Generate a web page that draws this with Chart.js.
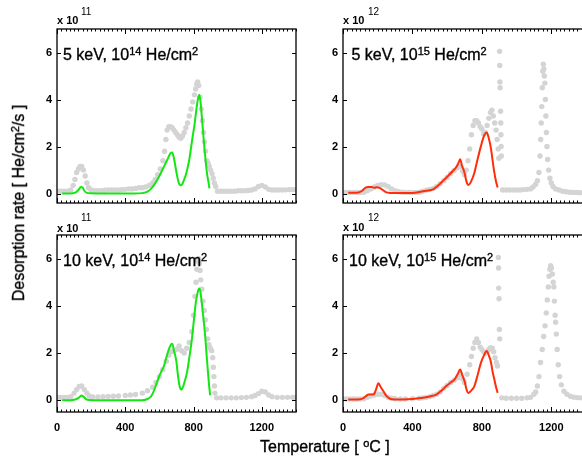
<!DOCTYPE html>
<html>
<head>
<meta charset="utf-8">
<script src="https://cdn.jsdelivr.net/npm/chart.js@4.4.1/dist/chart.umd.min.js"></script>
<style>
  html, body { margin: 0; padding: 0; background: #fff; }
  #fig { position: relative; width: 582px; height: 460px; overflow: hidden; font-family: 'Liberation Sans', Arial, sans-serif; color: #000; }
  canvas { position: absolute; }
  .txt { position: absolute; white-space: nowrap; line-height: 16px; font-size: 16px; -webkit-text-stroke: 0.35px #000; }
  .txt sup { font-size: 11px; vertical-align: 5px; line-height: 0; }
  .mul { position: absolute; font-size: 11px; font-weight: bold; line-height: 11px; white-space: nowrap; }
  .exp { position: absolute; font-size: 10px; line-height: 10px; }
</style>
</head>
<body>
<div id="fig">
  <canvas id="c1" width="300" height="215" style="left:0;top:0"></canvas>
  <canvas id="c2" width="290" height="215" style="left:300px;top:0"></canvas>
  <canvas id="c3" width="300" height="245" style="left:0;top:215px"></canvas>
  <canvas id="c4" width="290" height="245" style="left:300px;top:215px"></canvas>

  <div class="mul" style="left:57px;top:14.5px">x 10</div><div class="exp" style="left:81px;top:6.5px">11</div>
  <div class="mul" style="left:343px;top:15px">x 10</div><div class="exp" style="left:368px;top:6.5px">12</div>
  <div class="mul" style="left:57px;top:223px">x 10</div><div class="exp" style="left:81px;top:212.5px">11</div>
  <div class="mul" style="left:343px;top:222px">x 10</div><div class="exp" style="left:368px;top:212.5px">12</div>

  <div class="txt" style="left:63px;top:46.5px">5 keV, 10<sup>14</sup> He/cm<sup>2</sup></div>
  <div class="txt" style="left:351.5px;top:46.5px">5 keV, 10<sup>15</sup> He/cm<sup>2</sup></div>
  <div class="txt" style="left:63px;top:253px">10 keV, 10<sup>14</sup> He/cm<sup>2</sup></div>
  <div class="txt" style="left:349px;top:253px">10 keV, 10<sup>15</sup> He/cm<sup>2</sup></div>

  <div class="txt" style="left:19px;top:203px;transform:translate(-50%,-50%) rotate(-90deg)">Desorption rate [ He/cm<sup>2</sup>/s ]</div>
  <div class="txt" style="left:260px;top:438.5px">Temperature [ <sup>o</sup>C ]</div>
</div>

<script>
// tick labels
const xTicks = [0, 400, 800, 1200];
const yTicks = [0, 2, 4, 6];
const xMinorStep = 25;

// 5 keV, 1e14 He/cm2 (x 1e11)
const tGray5k14 = [0,20,40,60,80,95,105,115,125,135,145,155,165,175,185,200,220,240,260,280,300,320,340,360,380,400,420,440,460,480,500,520,540,560,575,590,605,620,630,638,645,655,665,675,685,695,705,715,725,735,745,755,765,775,785,795,805,812,818,824,830,838,845,852,858,864,870,877,885,892,900,908,915,922,930,940,960,980,1000,1020,1040,1060,1080,1100,1120,1140,1160,1180,1200,1220,1240,1260,1280,1300,1320,1340,1360,1380,1400];
const vGray5k14 = [0.1,0.1,0.1,0.1,0.15,0.35,0.6,0.9,1.05,1.15,1.15,1.0,0.75,0.45,0.25,0.15,0.12,0.12,0.12,0.14,0.15,0.15,0.15,0.15,0.17,0.18,0.2,0.2,0.22,0.25,0.25,0.28,0.35,0.45,0.6,0.8,1.05,1.4,1.8,2.3,2.7,2.85,2.85,2.8,2.7,2.6,2.5,2.4,2.35,2.45,2.6,2.8,3.0,3.3,3.6,3.9,4.2,4.45,4.65,4.75,4.6,4.1,3.6,3.1,2.6,2.2,1.8,1.4,1.3,1.15,1.0,0.85,0.65,0.45,0.3,0.1,0.1,0.1,0.1,0.1,0.1,0.12,0.12,0.12,0.13,0.15,0.2,0.3,0.35,0.28,0.18,0.15,0.15,0.15,0.15,0.16,0.17,0.17,0.17];
const tFit5k14 = [30,60,90,110,125,140,150,160,175,200,250,300,350,400,450,500,530,550,570,590,610,630,650,665,675,685,695,705,715,725,735,745,755,765,775,785,795,805,815,825,833,840,848,856,864,872,880,887,893];
const vFit5k14 = [0,0,0.01,0.05,0.15,0.28,0.26,0.12,0.03,0.01,0,0,0,0,0,0.02,0.08,0.2,0.38,0.62,0.9,1.2,1.5,1.72,1.75,1.5,1.1,0.7,0.42,0.35,0.42,0.6,0.8,1.1,1.45,1.95,2.45,2.9,3.5,4.0,4.2,3.95,3.3,2.6,1.9,1.3,0.8,0.5,0.22];

// 5 keV, 1e15 He/cm2 (x 1e12)
const tGray5k15 = [0,20,40,60,80,100,120,140,160,180,200,220,240,260,280,300,320,340,360,380,400,420,440,460,480,500,520,540,560,580,600,620,640,660,675,690,700,710,720,730,740,750,760,770,780,790,800,810,820,830,840,850,858,866,874,882,888,894,898,902,903,904,905,908,909,910,911,912,920,940,960,980,1000,1020,1040,1060,1080,1095,1110,1120,1129,1135,1139,1142,1145,1148,1151,1154,1157,1160,1163,1166,1169,1172,1175,1179,1185,1192,1200,1210,1225,1245,1265,1285,1305,1325,1345,1365,1385];
const vGray5k15 = [0.05,0.05,0.05,0.05,0.05,0.05,0.06,0.12,0.2,0.28,0.35,0.38,0.37,0.3,0.2,0.12,0.08,0.06,0.05,0.05,0.05,0.05,0.06,0.1,0.14,0.18,0.22,0.3,0.42,0.55,0.7,0.85,0.98,1.1,1.15,0.95,0.8,1.0,1.4,1.9,2.5,2.9,3.1,3.1,3.0,2.85,2.75,2.55,2.6,2.9,3.2,3.45,3.55,3.3,3.0,2.7,2.3,1.9,1.5,6.05,5.45,4.75,4.5,3.5,3.0,2.5,2.0,1.6,0.15,0.15,0.15,0.15,0.15,0.15,0.17,0.18,0.2,0.28,0.4,0.55,0.9,1.6,2.3,3.0,3.7,4.5,5.2,5.5,5.3,5.0,4.7,4.0,3.3,2.6,2.0,1.45,1.0,0.65,0.45,0.3,0.2,0.15,0.1,0.08,0.06,0.05,0.05,0.04,0.04];
const tFit5k15 = [30,60,90,110,130,145,165,180,195,210,230,250,270,300,350,400,440,480,519,545,576,605,633,655,665,675,685,700,712,723,740,757,775,795,812,828,840,853,862,872,882,891];
const vFit5k15 = [0.04,0.04,0.05,0.12,0.25,0.28,0.28,0.25,0.27,0.24,0.15,0.05,0.03,0.02,0.02,0.03,0.07,0.12,0.18,0.32,0.54,0.75,0.96,1.15,1.3,1.46,1.2,0.89,0.5,0.37,0.55,0.89,1.45,2.03,2.45,2.6,2.35,1.89,1.4,0.89,0.5,0.26];

// 10 keV, 1e14 He/cm2 (x 1e11)
const tGray10k14 = [0,20,40,60,80,100,115,130,145,160,175,190,210,240,270,300,330,360,400,430,460,500,530,560,580,600,620,640,655,670,685,700,715,730,745,760,775,790,800,808,814,819,824,829,834,838,842,848,855,862,868,875,882,890,898,906,912,916,919,922,925,935,960,990,1020,1050,1080,1110,1140,1160,1180,1200,1220,1240,1260,1290,1320,1350,1380,1400];
const vGray10k14 = [0.12,0.12,0.12,0.12,0.15,0.3,0.45,0.58,0.6,0.45,0.3,0.18,0.14,0.14,0.15,0.16,0.17,0.18,0.2,0.22,0.24,0.3,0.4,0.55,0.75,1.0,1.3,1.65,1.9,2.05,2.1,2.15,2.3,2.1,2.0,2.2,2.45,2.9,3.6,4.4,5.0,5.55,5.9,6.0,5.8,5.5,5.1,4.7,4.2,3.8,3.4,3.0,2.6,2.35,2.2,2.1,1.8,1.4,1.0,0.6,0.3,0.1,0.1,0.1,0.1,0.1,0.11,0.12,0.15,0.2,0.28,0.38,0.35,0.22,0.15,0.12,0.12,0.12,0.12,0.12];
const tFit10k14 = [30,60,90,115,130,143,155,170,190,250,300,400,500,530,550,565,578,595,610,626,640,655,667,675,685,698,709,718,727,740,750,761,775,790,802,813,825,833,840,848,858,868,876,883,890,897];
const vFit10k14 = [0,0,0.01,0.05,0.12,0.2,0.15,0.05,0.01,0,0,0,0,0.05,0.15,0.35,0.6,0.95,1.2,1.44,1.8,2.15,2.35,2.39,2.1,1.7,1.02,0.6,0.45,0.6,0.85,1.16,1.8,2.58,3.4,4.13,4.6,4.73,4.6,4.13,3.45,2.72,1.95,1.3,0.7,0.21];

// 10 keV, 1e15 He/cm2 (x 1e12)
const tGray10k15 = [0,20,40,60,80,100,120,140,160,180,200,220,240,260,280,300,330,360,400,440,460,480,500,520,540,560,580,600,620,640,660,675,690,700,715,730,740,750,760,770,780,790,800,810,820,830,840,850,860,868,876,884,890,895,896,897,899,901,903,915,940,970,1000,1030,1060,1080,1100,1110,1120,1129,1138,1148,1156,1164,1171,1177,1183,1187,1192,1196,1201,1206,1211,1215,1218,1222,1225,1229,1234,1240,1248,1258,1273,1290,1310,1330,1350,1370,1390];
const vGray10k15 = [0.05,0.05,0.05,0.05,0.05,0.05,0.06,0.12,0.18,0.22,0.25,0.25,0.2,0.12,0.08,0.06,0.05,0.05,0.06,0.08,0.1,0.12,0.15,0.2,0.25,0.35,0.5,0.62,0.75,0.85,0.95,1.1,0.9,0.75,1.1,1.5,1.85,2.2,2.45,2.6,2.45,2.25,2.15,2.05,2.0,2.05,2.15,2.22,2.2,2.05,1.8,1.6,1.45,6.05,5.6,4.75,4.3,3.0,2.6,0.1,0.08,0.08,0.08,0.08,0.1,0.12,0.25,0.35,0.6,1.0,1.6,2.15,2.7,3.15,3.7,4.25,4.8,5.25,5.55,5.7,5.6,5.35,5.0,4.8,4.2,3.6,3.3,2.8,2.15,1.5,1.0,0.65,0.38,0.25,0.17,0.13,0.11,0.1,0.1];
const tFit10k15 = [30,60,99,120,147,176,190,204,218,233,250,271,300,350,400,461,500,538,570,595,620,643,660,675,688,700,712,723,740,757,775,795,812,828,840,853,862,872,882,891];
const vFit10k15 = [0.03,0.03,0.04,0.1,0.24,0.24,0.45,0.72,0.55,0.38,0.18,0.06,0.03,0.03,0.05,0.1,0.16,0.24,0.42,0.6,0.75,0.88,1.1,1.3,1.05,0.81,0.45,0.31,0.42,0.6,1.05,1.59,1.9,2.08,1.9,1.59,1.2,0.88,0.55,0.31];

const GRAY = 'rgb(212,212,212)';
const GREEN = 'rgb(20,230,20)';
const RED = 'rgb(255,45,10)';
const tickFont = { family: "'Liberation Sans', Arial, sans-serif", size: 11, weight: 'bold' };

function pts(ts, vs) {
    return ts.map((t, i) => ({ x: t, y: vs[i] }));
}

// box with inward ticks, like the original plot
const frame = {
    id: 'frame',
    afterDraw(chart) {
        const { ctx, chartArea: a, scales } = chart;
        const x = scales.x, y = scales.y;
        ctx.save();
        ctx.strokeStyle = '#000';
        ctx.lineWidth = 1.3;
        ctx.strokeRect(a.left, a.top, a.right - a.left, a.bottom - a.top);
        ctx.beginPath();
        for (let v = 0; v <= x.max; v += xMinorStep) {
            const px = Math.round(x.getPixelForValue(v)) + 0.5;
            const len = xTicks.includes(v) ? 5 : 2.5;
            ctx.moveTo(px, a.bottom); ctx.lineTo(px, a.bottom - len);
            ctx.moveTo(px, a.top); ctx.lineTo(px, a.top + len);
        }
        yTicks.forEach(v => {
            const py = Math.round(y.getPixelForValue(v)) + 0.5;
            ctx.moveTo(a.left, py); ctx.lineTo(a.left + 4, py);
            ctx.moveTo(a.right, py); ctx.lineTo(a.right - 4, py);
        });
        ctx.lineWidth = 1;
        ctx.stroke();
        ctx.restore();
    }
};

function makePanel(id, tg, vg, tf, vf, color, opt) {
    new Chart(document.getElementById(id), {
        type: 'scatter',
        data: {
            datasets: [{
                data: pts(tf, vf),
                showLine: true,
                borderColor: color,
                borderWidth: 2,
                pointRadius: 0,
                cubicInterpolationMode: 'monotone'
            }, {
                data: pts(tg, vg),
                backgroundColor: GRAY,
                borderWidth: 0,
                pointRadius: 2.7
            }]
        },
        options: {
            responsive: false,
            animation: false,
            events: [],
            layout: { padding: { top: opt.top, right: opt.right, left: 0, bottom: 0 } },
            plugins: { legend: { display: false }, tooltip: { enabled: false } },
            scales: {
                x: {
                    min: 0, max: 1400,
                    afterBuildTicks: s => { s.ticks = xTicks.map(v => ({ value: v })); },
                    afterFit: s => { s.height = opt.xh; },
                    grid: { display: false, drawTicks: false },
                    border: { display: false },
                    ticks: { display: opt.labels, padding: 9, maxRotation: 0, font: tickFont, color: '#000', callback: v => String(v) }
                },
                y: {
                    min: opt.ymin, max: 7,
                    afterBuildTicks: s => { s.ticks = yTicks.map(v => ({ value: v })); },
                    afterFit: s => { s.width = opt.yw; },
                    grid: { display: false, drawTicks: false },
                    border: { display: false },
                    ticks: { padding: 5, font: tickFont, color: '#000', callback: v => String(v) }
                }
            }
        },
        plugins: [frame]
    });
}

makePanel('c1', tGray5k14, vGray5k14, tFit5k14, vFit5k14, GREEN, { top: 29, right: 1, xh: 12, yw: 57, ymin: -0.4, labels: false });
makePanel('c2', tGray5k15, vGray5k15, tFit5k15, vFit5k15, RED, { top: 29, right: 3, xh: 12, yw: 43, ymin: -0.4, labels: false });
makePanel('c3', tGray10k14, vGray10k14, tFit10k14, vFit10k14, GREEN, { top: 20, right: 1, xh: 48, yw: 57, ymin: -0.5, labels: true });
makePanel('c4', tGray10k15, vGray10k15, tFit10k15, vFit10k15, RED, { top: 20, right: 3, xh: 48, yw: 43, ymin: -0.5, labels: true });
</script>
</body>
</html>
